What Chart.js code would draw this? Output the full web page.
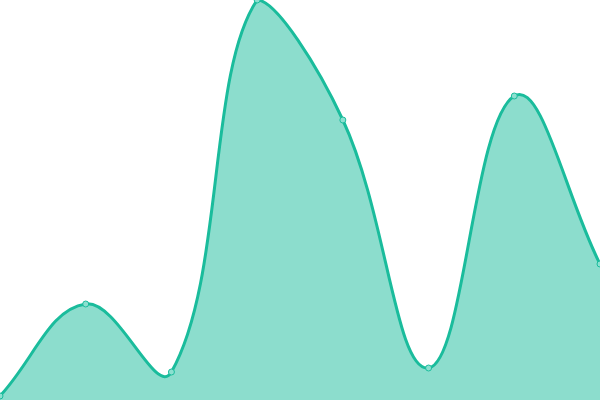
<!DOCTYPE html>
<html>
<head>
<meta charset="utf-8">
<script src="https://cdn.jsdelivr.net/npm/chart.js@4"></script>
<style>
  html, body { margin: 0; padding: 0; background: #fff; }
  #wrap { width: 600px; height: 400px; }
</style>
</head>
<body>
<div id="wrap"><canvas id="chart"></canvas></div>
<script>
const labels = ["1", "2", "3", "4", "5", "6", "7", "8"];
const values = [1, 24, 7, 100, 70, 8, 76, 34];

const ctx = document.getElementById("chart");
new Chart(ctx, {
  type: "line",
  data: {
    labels,
    datasets: [
      {
        data: values,
        fill: true,
        tension: 0.4,
        borderColor: "#1abc9c",
        backgroundColor: "rgba(26, 188, 156, 0.5)",
        borderWidth: 3,
        pointRadius: 3,
        pointBorderWidth: 1,
        pointBorderColor: "#1abc9c",
        pointBackgroundColor: "#8ce0d0",
      },
    ],
  },
  options: {
    responsive: true,
    maintainAspectRatio: false,
    animation: false,
    layout: { padding: 0, autoPadding: false },
    plugins: {
      legend: { display: false },
      tooltip: { enabled: false },
    },
    scales: {
      x: { display: false },
      y: { display: false, min: 0, max: 100 },
    },
  },
});
</script>
</body>
</html>
